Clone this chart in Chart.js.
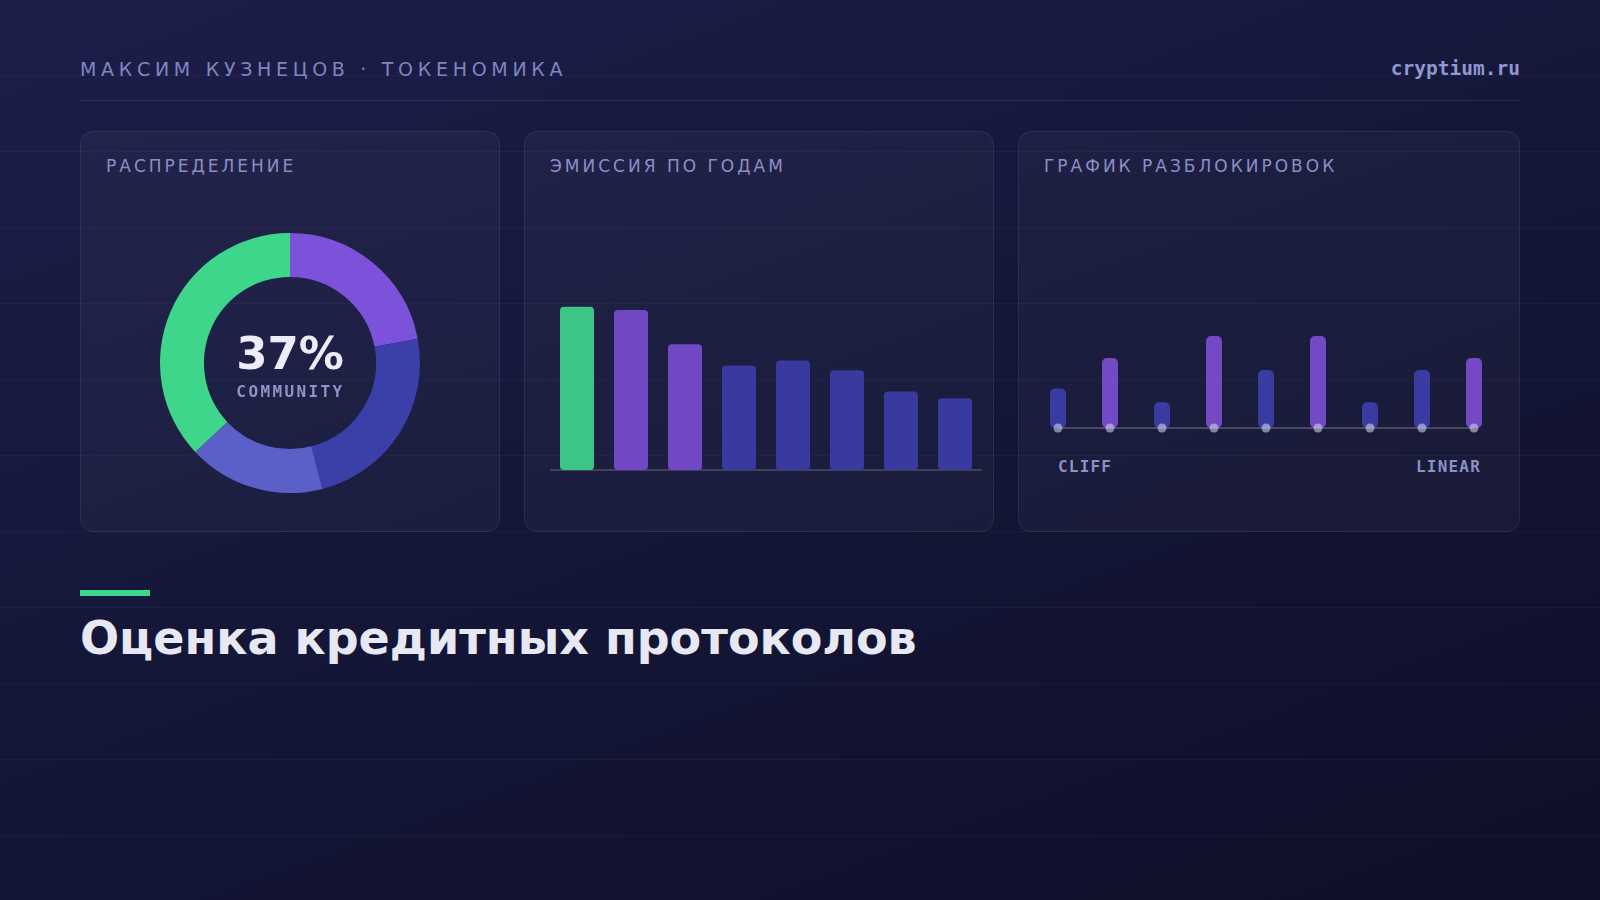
<!DOCTYPE html>
<html lang="ru">
<head>
<meta charset="utf-8">
<title>Оценка кредитных протоколов</title>
<script src="https://cdn.jsdelivr.net/npm/chart.js@4.4.1/dist/chart.umd.min.js"></script>
<style>
  html, body { margin: 0; padding: 0; }
  body {
    width: 1600px;
    height: 900px;
    overflow: hidden;
    font-family: "DejaVu Sans", sans-serif;
    background:
      repeating-linear-gradient(to bottom, transparent 0, transparent 75px, rgba(255,255,255,0.03) 75px, rgba(255,255,255,0.03) 76px),
      linear-gradient(160deg, #1c1e4a 0%, #15173a 45%, #0e0f27 100%);
  }
  .page { position: relative; width: 1600px; height: 900px; }
  .abs { position: absolute; line-height: 1; white-space: nowrap; }
  .author { left: 80px; top: 60px; font-size: 19px; letter-spacing: 4.7px; color: #7f86c0; }
  .site { right: 80px; top: 58.5px; font-family: "DejaVu Sans Mono", monospace; font-weight: bold; font-size: 19.5px; color: #9097cf; }
  .rule { position: absolute; left: 80px; top: 100px; width: 1440px; height: 1px; background: rgba(255,255,255,0.08); }
  .card {
    position: absolute; top: 131px; height: 401px; box-sizing: border-box;
    border: 1px solid rgba(255,255,255,0.07); border-radius: 14px;
    background: rgba(255,255,255,0.03);
  }
  .card-title { font-size: 17px; letter-spacing: 3px; color: #8a90c6; top: 158px; }
  .mono { font-family: "DejaVu Sans Mono", monospace; font-weight: bold; }
  .big { font-weight: bold; font-size: 45px; color: #ecedf8; width: 200px; left: 190px; top: 331px; text-align: center; }
  .sub { font-size: 16px; letter-spacing: 2.4px; color: #8e93c9; width: 200px; left: 190.5px; top: 384px; text-align: center; }
  .tag { font-size: 16px; letter-spacing: 1.2px; color: #8a90c8; top: 459px; }
  .accent { position: absolute; left: 80px; top: 590px; width: 70px; height: 6px; background: #3ed68b; }
  .headline { left: 80px; top: 615px; font-weight: bold; font-size: 46px; color: #e8e8f5; }
  canvas { position: absolute; }
</style>
</head>
<body>
<div class="page">
  <div class="abs author">МАКСИМ КУЗНЕЦОВ · ТОКЕНОМИКА</div>
  <div class="abs site">cryptium.ru</div>
  <div class="rule"></div>

  <div class="card" style="left:80px; width:420px;"></div>
  <div class="card" style="left:524px; width:470px;"></div>
  <div class="card" style="left:1018px; width:502px;"></div>

  <div class="abs card-title" style="left:106px;">РАСПРЕДЕЛЕНИЕ</div>
  <div class="abs card-title" style="left:550px;">ЭМИССИЯ ПО ГОДАМ</div>
  <div class="abs card-title" style="left:1044px;">ГРАФИК РАЗБЛОКИРОВОК</div>

  <canvas id="distChart" width="300" height="300" style="left:140px; top:213px;"></canvas>
  <div class="abs big" id="share"></div>
  <div class="abs mono sub" id="shareLabel"></div>

  <canvas id="emissionChart" width="432" height="247" style="left:550px; top:225px;"></canvas>

  <canvas id="unlockChart" width="468" height="192" style="left:1032px; top:244px;"></canvas>
  <div class="abs mono tag" style="left:1058px;">CLIFF</div>
  <div class="abs mono tag" style="right:119px;">LINEAR</div>

  <div class="accent"></div>
  <div class="abs headline">Оценка кредитных протоколов</div>
</div>

<script>
// Distribution (donut), clockwise from 12 o'clock
const distLabels = ["Team", "Investors", "Treasury", "Community"];
const distValues = [22, 24, 17, 37];
const distColors = ["#7b52d9", "#3b3fa8", "#5a60c8", "#3ed68b"];

// Emission by year
const emissionYears = ["2024", "2025", "2026", "2027", "2028", "2029", "2030", "2031"];
const emissionValues = [100, 98, 77, 64, 67, 61, 48, 44];

// Unlock schedule, % of supply per event
const unlockLabels = ["M1", "M2", "M3", "M4", "M5", "M6", "M7", "M8", "M9"];
const unlockValues = [4.3, 7.6, 2.8, 10, 6.3, 10, 2.8, 6.3, 7.6];
const unlockBase = [0, 0, 0, 0, 0, 0, 0, 0, 0];

const GREEN = "#3dc587";
const PURPLE = "#7249c4";
const BLUE = "#393a9e";

Chart.defaults.animation = false;
Chart.defaults.plugins.legend.display = false;
Chart.defaults.plugins.tooltip.enabled = false;

// center text from the data
const communityIdx = distLabels.indexOf("Community");
document.getElementById("share").textContent = distValues[communityIdx] + "%";
document.getElementById("shareLabel").textContent = distLabels[communityIdx].toUpperCase();

const distChart = new Chart(document.getElementById("distChart"), {
    type: "doughnut",
    data: {
        labels: distLabels,
        datasets: [{
            data: distValues,
            backgroundColor: distColors,
            borderWidth: 0,
            radius: 130,
        }],
    },
    options: {
        responsive: false,
        cutout: "66.2%",
        layout: { padding: 0 },
    },
});

const emissionChart = new Chart(document.getElementById("emissionChart"), {
    type: "bar",
    data: {
        labels: emissionYears,
        datasets: [{
            data: emissionValues,
            backgroundColor: (ctx) => ctx.dataIndex === 0 ? GREEN : (ctx.dataIndex < 3 ? PURPLE : BLUE),
            borderRadius: 4,
            borderSkipped: false,
            barPercentage: 0.63,
            categoryPercentage: 1,
        }],
    },
    options: {
        responsive: false,
        layout: { padding: { bottom: 2 } },
        scales: {
            x: {
                grid: { display: false, drawTicks: false },
                ticks: { display: false },
                border: { display: true, color: "rgba(255,255,255,0.16)", width: 2 },
            },
            y: { display: false, min: 0, max: 150 },
        },
    },
});

const unlockChart = new Chart(document.getElementById("unlockChart"), {
    data: {
        labels: unlockLabels,
        datasets: [
            {
                type: "line",
                data: unlockBase,
                borderColor: "rgba(255,255,255,0.2)",
                borderWidth: 2,
                pointRadius: 4.5,
                pointBorderWidth: 0,
                pointBackgroundColor: "rgba(205,205,235,0.6)",
                clip: false,
                order: 0,
            },
            {
                type: "bar",
                data: unlockValues,
                backgroundColor: (ctx) => ctx.raw >= 7 ? "#7449c6" : "#3a3ca2",
                borderRadius: 5,
                borderSkipped: false,
                barPercentage: 0.3077,
                categoryPercentage: 1,
                order: 1,
            },
        ],
    },
    options: {
        responsive: false,
        layout: { autoPadding: false, padding: { bottom: 8 } },
        scales: {
            x: { display: false },
            y: { display: false, min: 0, max: 20 },
        },
    },
});
</script>
</body>
</html>
